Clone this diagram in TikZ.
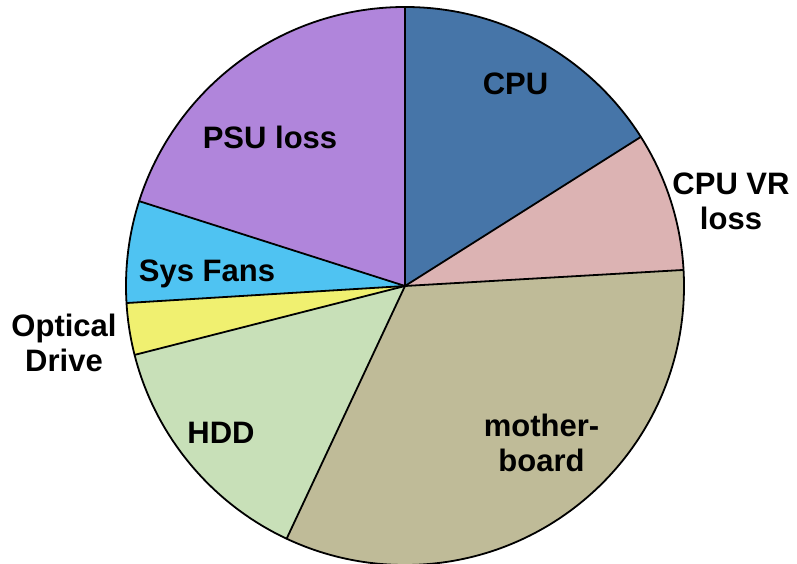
\documentclass[tikz,border=0pt]{standalone}
\usepackage{fontspec}
\setmainfont{Liberation Sans}
\definecolor{cpuc}{HTML}{4675A8}
\definecolor{psuc}{HTML}{B085DB}
\definecolor{fanc}{HTML}{4FC3F2}
\definecolor{optc}{HTML}{F0F070}
\definecolor{hddc}{HTML}{C8E0B8}
\definecolor{mbc}{HTML}{BFBB98}
\definecolor{vrc}{HTML}{DCB3B3}
\begin{document}
\begin{tikzpicture}[x=1pt,y=1pt,
  slice/.style={draw=black,line width=1.8pt,line join=round},
  lbl/.style={font=\fontsize{31}{35}\selectfont\bfseries,align=center,inner sep=0pt,anchor=base}]
\useasboundingbox (0,0) rectangle (797,564);
\coordinate (c) at (405,278);
\def\R{279}
\fill[cpuc] (c) -- ++(32.3:\R) arc[start angle=32.3,end angle=90,radius=\R] -- cycle;
\fill[psuc] (c) -- ++(90:\R) arc[start angle=90,end angle=162.3,radius=\R] -- cycle;
\fill[fanc] (c) -- ++(162.3:\R) arc[start angle=162.3,end angle=183.5,radius=\R] -- cycle;
\fill[optc] (c) -- ++(183.5:\R) arc[start angle=183.5,end angle=194.3,radius=\R] -- cycle;
\fill[hddc] (c) -- ++(194.3:\R) arc[start angle=194.3,end angle=244.9,radius=\R] -- cycle;
\fill[mbc] (c) -- ++(244.9:\R) arc[start angle=244.9,end angle=363.3,radius=\R] -- cycle;
\fill[vrc] (c) -- ++(3.3:\R) arc[start angle=3.3,end angle=32.3,radius=\R] -- cycle;
\foreach \a in {32.3,90,162.3,183.5,194.3,244.9,3.3}
  \draw[slice] (c) -- ++(\a:\R);
\draw[slice] (c) circle[radius=\R];
\node[lbl] (cpu) at (515.5,469) {CPU};
\node[lbl] (vr) at (731,334) {CPU VR\\loss};
\node[lbl] (psu) at (270,415.7) {PSU loss};
\node[lbl] (fan) at (207,282) {Sys Fans};
\node[lbl] (opt) at (64,192.3) {Optical\\Drive};
\node[lbl] (hdd) at (221,120.5) {HDD};
\node[lbl] (mb) at (541.5,92.3) {mother-\\board};
\end{tikzpicture}
\end{document}
